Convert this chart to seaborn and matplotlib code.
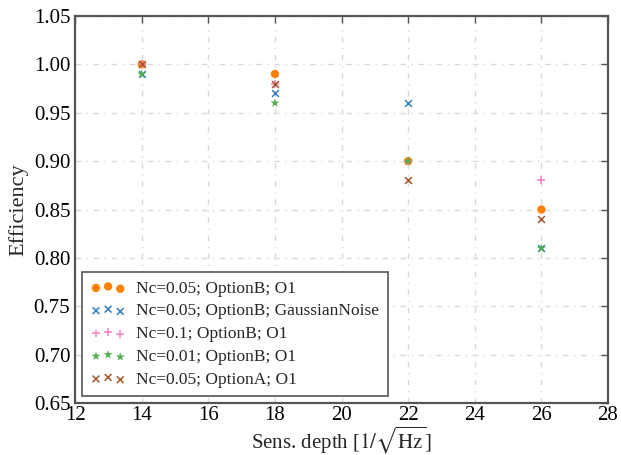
import numpy as np
import pandas as pd
import matplotlib
matplotlib.use("Agg")
import matplotlib.pyplot as plt
import seaborn as sns

depth = [14, 18, 22, 26]

labels = [
    "Nc=0.05; OptionB; O1",
    "Nc=0.05; OptionB; GaussianNoise",
    "Nc=0.1; OptionB; O1",
    "Nc=0.01; OptionB; O1",
    "Nc=0.05; OptionA; O1",
]
eff_b_o1 = [1.00, 0.99, 0.90, 0.85]
eff_b_gauss = [0.99, 0.97, 0.96, 0.81]
eff_nc01 = [1.00, 0.98, 0.90, 0.88]
eff_nc001 = [0.99, 0.96, 0.90, 0.81]
eff_a_o1 = [1.00, 0.98, 0.88, 0.84]
series = [eff_b_o1, eff_b_gauss, eff_nc01, eff_nc001, eff_a_o1]

colors = ["#ff7f00", "#377eb8", "#f781bf", "#4daf4a", "#a65628"]
markers = ["o", "x", "+", "*", "x"]
sizes = [36, 24, 32, 45, 24]

sns.set_style("white")
plt.rcParams["font.family"] = ["Liberation Serif", "DejaVu Serif"]
plt.rcParams["mathtext.fontset"] = "stix"

fig = plt.figure(figsize=(6.21, 4.55), dpi=100)
ax = fig.add_axes([0.121, 0.114, 0.858, 0.851])

for lab, vals, c, m, s in zip(labels, series, colors, markers, sizes):
    df = pd.DataFrame({"depth": depth, "eff": vals})
    sns.scatterplot(data=df, x="depth", y="eff", ax=ax, color=c, marker=m,
                    s=s, linewidth=1.1 if m in ("x", "+") else 0,
                    edgecolor=c if m in ("x", "+") else "none",
                    label=lab, legend=False, zorder=3)

ax.set_xlim(12, 28)
ax.set_ylim(0.65, 1.05)
ax.set_xticks(np.arange(12, 29, 2))
ax.set_yticks(np.arange(0.65, 1.051, 0.05))
ax.set_yticklabels([f"{v:.2f}" for v in np.arange(0.65, 1.051, 0.05)])

ax.grid(True, color="#d9d9d9", linestyle=(0, (4, 4, 1, 4)), linewidth=1.0)
ax.set_axisbelow(True)
for sp in ax.spines.values():
    sp.set_color("#555555")
    sp.set_linewidth(1.6)
ax.tick_params(direction="in", length=5, width=1.0, colors="#555555",
               labelcolor="black", labelsize=15, top=True, right=True)
ax.tick_params(axis="x", pad=2)

ax.set_xlabel(r"Sens. depth [$1/\sqrt{\mathrm{Hz}}$]", fontsize=15, labelpad=0)
ax.set_ylabel("Efficiency", fontsize=16, labelpad=4)

leg = ax.legend(loc="lower left", scatterpoints=3,
                scatteryoffsets=[0.375, 0.5, 0.3125], fontsize=12.5,
                fancybox=False, framealpha=1, borderaxespad=0.4,
                handletextpad=0.6, labelspacing=0.38, borderpad=0.5)
leg.get_frame().set_edgecolor("#555555")
leg.get_frame().set_linewidth(1.2)

fig.savefig("out.png", dpi=100)
